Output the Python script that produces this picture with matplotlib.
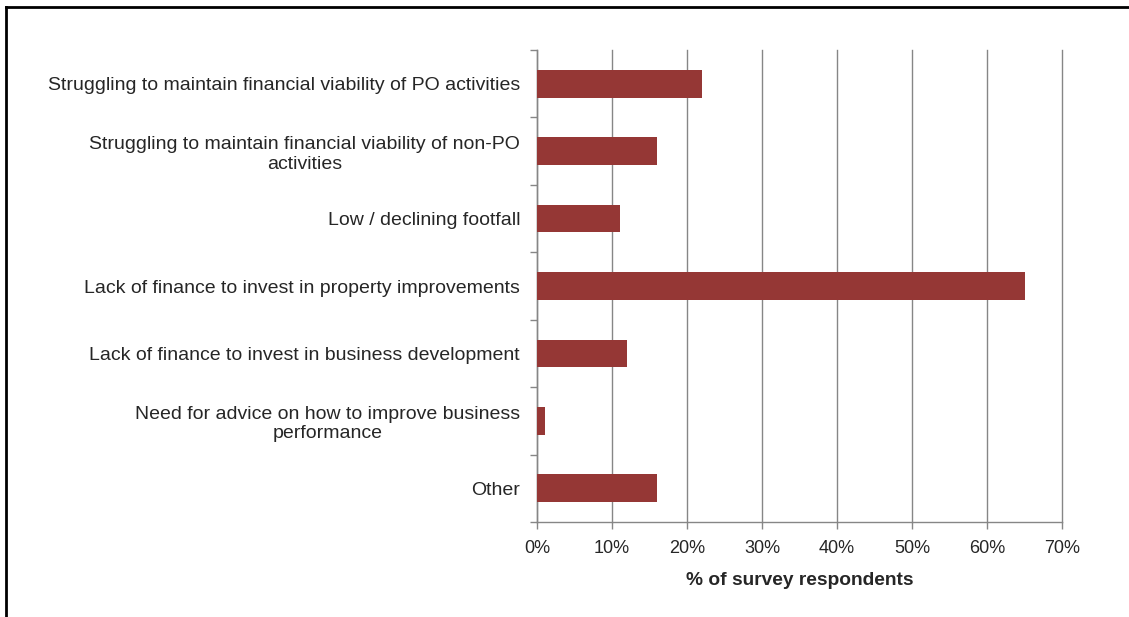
import matplotlib.pyplot as plt
from matplotlib.lines import Line2D
from matplotlib.ticker import FixedLocator, PercentFormatter

plt.rcParams['font.family'] = ['Liberation Sans', 'DejaVu Sans']

categories = [
    'Struggling to maintain financial viability of PO activities',
    'Struggling to maintain financial viability of non-PO\nactivities',
    'Low / declining footfall',
    'Lack of finance to invest in property improvements',
    'Lack of finance to invest in business development',
    'Need for advice on how to improve business\nperformance',
    'Other',
]
shares = [22, 16, 11, 65, 12, 1, 16]
x_ticks = [0, 10, 20, 30, 40, 50, 60, 70]

BAR_COLOR = '#953735'
GRID_COLOR = '#868686'
TEXT_COLOR = '#262626'

fig = plt.figure(figsize=(11.29, 6.17), dpi=100)
ax = fig.add_axes([537 / 1129, 1 - 522 / 617, 525 / 1129, 472 / 617])

n = len(categories)
ypos = list(range(n))
ax.barh(ypos, shares, height=0.41, color=BAR_COLOR, zorder=3)

ax.set_xlim(0, 70)
ax.set_ylim(n - 0.5, -0.5)

ax.set_xticks(x_ticks)
ax.xaxis.set_major_formatter(PercentFormatter(decimals=0))
ax.set_yticks(ypos)
ax.set_yticklabels(categories, multialignment='center', linespacing=1.2)
# category separators on the left spine
ax.yaxis.set_minor_locator(FixedLocator([i - 0.5 for i in range(n + 1)]))

ax.tick_params(axis='x', direction='out', length=5, width=1, color=GRID_COLOR,
               labelsize=13, labelcolor=TEXT_COLOR, pad=8)
ax.tick_params(axis='y', which='major', length=0, labelsize=14,
               labelcolor=TEXT_COLOR, pad=12.2)
ax.tick_params(axis='y', which='minor', direction='out', length=5, width=1,
               color=GRID_COLOR)

for side in ('top', 'right'):
    ax.spines[side].set_visible(False)
for side in ('left', 'bottom'):
    ax.spines[side].set_color(GRID_COLOR)
    ax.spines[side].set_linewidth(1)

ax.grid(axis='x', color=GRID_COLOR, linewidth=1, zorder=0)
ax.set_axisbelow(True)
for line in ax.get_xgridlines():
    line.set_clip_on(False)

ax.set_xlabel('% of survey respondents', fontsize=13.8, fontweight='bold',
              color=TEXT_COLOR, labelpad=11)

# frame around the chart area
fig.add_artist(Line2D([5.5 / 1129, 1], [1 - 6.5 / 617, 1 - 6.5 / 617],
                      transform=fig.transFigure, color='black', linewidth=2))
fig.add_artist(Line2D([5.5 / 1129, 5.5 / 1129], [0, 1 - 6.5 / 617],
                      transform=fig.transFigure, color='black', linewidth=2))

fig.savefig('out.png', dpi=100)
